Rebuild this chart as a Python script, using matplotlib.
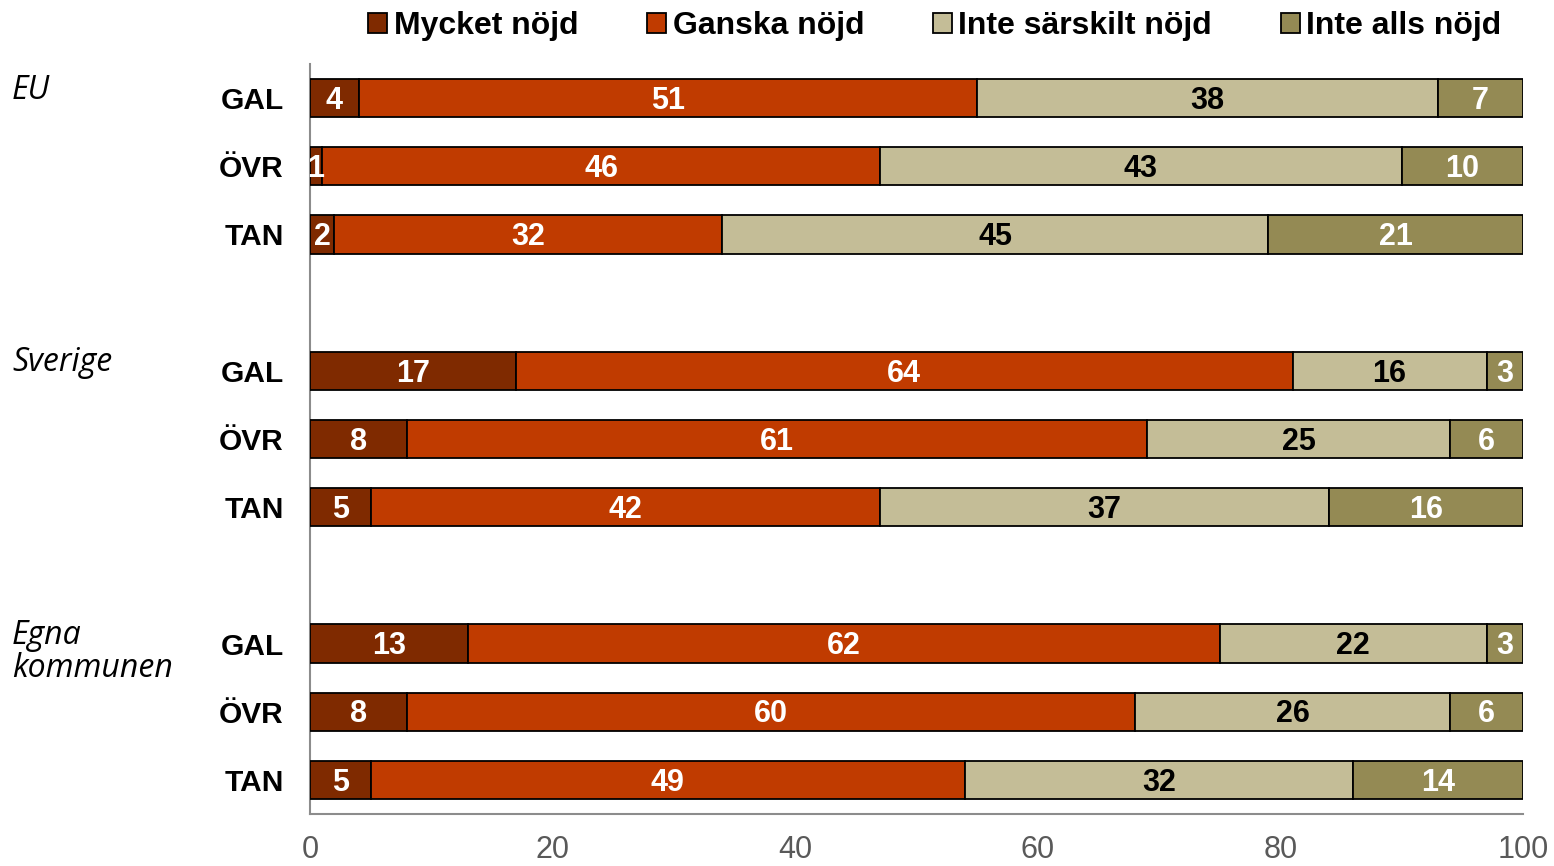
import matplotlib
matplotlib.use("Agg")
import matplotlib.pyplot as plt
import matplotlib.transforms as mtrans
import numpy as np

groups = ["EU", "Sverige", "Egna\nkommunen"]
rows = ["GAL", "ÖVR", "TAN"]
series_names = ["Mycket nöjd", "Ganska nöjd", "Inte särskilt nöjd", "Inte alls nöjd"]

mycket = [4, 1, 2, 17, 8, 5, 13, 8, 5]
ganska = [51, 46, 32, 64, 61, 42, 62, 60, 49]
inte_sarskilt = [38, 43, 45, 16, 25, 37, 22, 26, 32]
inte_alls = [7, 10, 21, 3, 6, 16, 3, 6, 14]

xticks = [0, 20, 40, 60, 80, 100]

colors = ["#7F2A00", "#C03B00", "#C4BD97", "#948A54"]
text_colors = ["white", "white", "black", "white"]

fig = plt.figure(figsize=(15.54, 8.66), dpi=100)
ax = fig.add_axes([310/1554, 1-814/866, (1523-310)/1554, (814-64)/866])

# slot positions: 3 groups with an empty slot between groups
ypos = []
for g in range(3):
    for r in range(3):
        ypos.append(g * 4 + r)
ypos = np.array(ypos, dtype=float)

data = [mycket, ganska, inte_sarskilt, inte_alls]
left = np.zeros(len(ypos))
bh = 0.56
for i, vals in enumerate(data):
    vals = np.array(vals, dtype=float)
    ax.barh(ypos, vals, left=left, height=bh, color=colors[i],
            edgecolor="black", linewidth=1.3, label=series_names[i], zorder=3)
    for y, l, v in zip(ypos, left, vals):
        ax.text(l + v / 2, y + 0.04, f"{int(v)}", ha="center", va="center",
                color=text_colors[i], fontsize=22, fontweight="bold",
                family="Liberation Sans", zorder=4)
    left += vals

ax.set_xlim(0, 100)
ax.set_ylim(10.5, -0.5)
ax.set_xticks(xticks)
ax.set_xticklabels([str(t) for t in xticks], fontsize=22, color="#595959",
                   family="Liberation Sans")
ax.set_yticks(ypos)
ax.set_yticklabels(rows * 3, fontsize=21.5, fontweight="bold", family="Liberation Sans")
ax.tick_params(axis="both", length=0)
ax.tick_params(axis="x", pad=15)
ax.tick_params(axis="y", pad=19)
for s in ["top", "right"]:
    ax.spines[s].set_visible(False)
for s in ["left", "bottom"]:
    ax.spines[s].set_color("#8C8C8C")
    ax.spines[s].set_linewidth(1.5)

trans = mtrans.blended_transform_factory(fig.transFigure, ax.transData)
for g, name in enumerate(groups):
    ax.text(12/1554, g * 4 - 0.36, name, transform=trans, ha="left", va="top",
            fontsize=23, style="italic", family="Open Sans", linespacing=1.0)

fig.legend(loc="upper center", bbox_to_anchor=(0.6015, 1.02), ncol=4, frameon=False,
           prop={"family": "Liberation Sans", "weight": "bold", "size": 23},
           handlelength=0.6, handleheight=0.6, handletextpad=0.2, columnspacing=2.15)

fig.savefig("out.png", dpi=100)
